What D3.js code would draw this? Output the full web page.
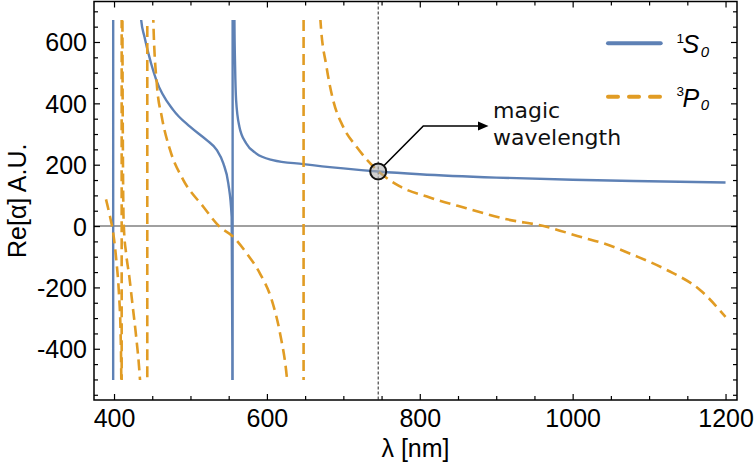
<!DOCTYPE html>
<html><head><meta charset="utf-8">
<script src="https://cdn.jsdelivr.net/npm/d3@7"></script>
<style>body{margin:0;background:#fff;overflow:hidden}</style>
</head><body><svg id="c" width="754" height="469"></svg>
<script>
// ---- data ----
const xTicks = [400, 600, 800, 1000, 1200];
const yTicks = [-400, -200, 0, 200, 400, 600];
const xMinor = [450, 500, 550, 650, 700, 750, 850, 900, 950, 1050, 1100, 1150];
const yMinor = [-550, -500, -450, -350, -300, -250, -150, -100, -50, 50, 100, 150, 250, 300, 350, 450, 500, 550, 650, 700];

// 1S0 polarizability  [wavelength nm, Re(alpha) a.u.]
const s0Data = [
  [390, -1500], [398.8, -8000], [399.0, 8000], [435.5, 672], [439.8, 617], [448.5, 530],
  [455.3, 476], [477.6, 378], [499.4, 324], [521.3, 280], [534.3, 248], [543, 204],
  [549.5, 139], [553.9, 30], [554.8, -400], [555.0, -8000], [555.3, 8000], [557.5, 672],
  [558.4, 519], [559.7, 411], [564, 324], [572.8, 270], [585.8, 237], [607.6, 215],
  [647.6, 202], [700, 188], [745.6, 178], [800, 169], [900, 158], [1000, 151],
  [1100, 146], [1200, 142]
];
// 3P0 polarizability
const p0Data = [
  [389.5, 87], [394.8, 30], [399, -24], [403, -111], [406.4, -219], [408.6, -349],
  [409.5, -502], [409.9, -8000], [410.1, 8000], [411.0, 672], [411.6, 250], [412.2, 60],
  [413, -10], [415.8, -89], [420, -165], [424.5, -263], [429, -361], [433.4, -481],
  [438, -700], [443.4, -8000], [443.6, 8000], [451.4, 672], [455.9, 465], [462.4, 357],
  [473.3, 248], [490.7, 150], [516.8, 63], [538, -2], [556, -35], [573.6, -89],
  [590.8, -154], [606.3, -241], [617.2, -350], [626, -491], [635, -800], [647.9, -8000],
  [648.1, 8000], [670, 672], [678, 519], [686.6, 411], [699.7, 324], [717, 259],
  [745.6, 179], [774, 129], [813, 93], [861, 58], [914, 22], [962, 0], [1014, -38],
  [1040, -56], [1080, -95], [1123, -143], [1167, -209], [1200, -296]
];
const magicLambda = 745.6;
const magicAlpha = 178;
const clipRange = [-502, 672];
const legendLabels = [
  {sup: "1", main: "S", sub: "0"},
  {sup: "3", main: "P", sub: "0"}
];
const annotationLines = ["magic", "wavelength"];

// ---- drawing ----
const blue = "#5E81B5", orange = "#E19C24";
const svg = d3.select("#c");
const L = 94, R = 737, T = 1.5, B = 400;
const x = d3.scaleLinear().domain([373.8, 1215]).range([L, R]);
const y = d3.scaleLinear().domain([-567, 732]).range([B, T]);
const tickFont = "'Liberation Sans', Arial, sans-serif";
const fmt = d => String(d);

svg.append("defs").append("clipPath").attr("id", "clip")
  .append("rect").attr("x", L).attr("width", R - L)
  .attr("y", y(clipRange[1])).attr("height", y(clipRange[0]) - y(clipRange[1]));

// zero line
svg.append("line").attr("x1", L).attr("x2", R).attr("y1", y(0)).attr("y2", y(0))
  .attr("stroke", "#808080").attr("stroke-width", 1.4);

// magic wavelength dashed line
svg.append("line").attr("x1", x(magicLambda)).attr("x2", x(magicLambda))
  .attr("y1", T).attr("y2", B).attr("stroke", "#222").attr("stroke-width", 1)
  .attr("stroke-dasharray", "3,2");

const line = d3.line().x(d => x(d[0])).y(d => y(d[1])).curve(d3.curveMonotoneX);
const g = svg.append("g").attr("clip-path", "url(#clip)");
g.append("path").datum(s0Data).attr("d", line).attr("fill", "none")
  .attr("stroke", blue).attr("stroke-width", 2.4);
g.append("path").datum(p0Data).attr("d", line).attr("fill", "none")
  .attr("stroke", orange).attr("stroke-width", 2.6).attr("stroke-dasharray", "11,6");

// frame
svg.append("rect").attr("x", L).attr("y", T).attr("width", R - L).attr("height", B - T)
  .attr("fill", "none").attr("stroke", "#000").attr("stroke-width", 1.5);

function styleAxis(sel) {
  sel.select(".domain").remove();
  sel.selectAll(".tick line").attr("stroke", "#000").attr("stroke-width", 1.2);
  sel.selectAll("text").attr("font-family", tickFont).attr("font-size", 25).attr("fill", "#000");
}
// bottom
svg.append("g").attr("transform", `translate(0,${B})`)
  .call(d3.axisBottom(x).tickValues(xTicks).tickSize(-6).tickPadding(9).tickFormat(fmt))
  .call(styleAxis);
svg.append("g").attr("transform", `translate(0,${B})`)
  .call(d3.axisBottom(x).tickValues(xMinor).tickSize(-4).tickFormat("")).call(styleAxis);
// top
svg.append("g").attr("transform", `translate(0,${T})`)
  .call(d3.axisTop(x).tickValues(xTicks).tickSize(-6).tickFormat("")).call(styleAxis);
svg.append("g").attr("transform", `translate(0,${T})`)
  .call(d3.axisTop(x).tickValues(xMinor).tickSize(-4).tickFormat("")).call(styleAxis);
// left
const la = svg.append("g").attr("transform", `translate(${L},0)`)
  .call(d3.axisLeft(y).tickValues(yTicks).tickSize(-6).tickPadding(7).tickFormat(fmt))
  .call(styleAxis);
la.selectAll("text").attr("dy", "0.36em");
svg.append("g").attr("transform", `translate(${L},0)`)
  .call(d3.axisLeft(y).tickValues(yMinor).tickSize(-4).tickFormat("")).call(styleAxis);
// right
svg.append("g").attr("transform", `translate(${R},0)`)
  .call(d3.axisRight(y).tickValues(yTicks).tickSize(-6).tickFormat("")).call(styleAxis);
svg.append("g").attr("transform", `translate(${R},0)`)
  .call(d3.axisRight(y).tickValues(yMinor).tickSize(-4).tickFormat("")).call(styleAxis);

// axis titles
svg.append("text").attr("x", (L + R) / 2).attr("y", 457).attr("text-anchor", "middle")
  .attr("font-family", tickFont).attr("font-size", 25).text("λ [nm]");
svg.append("text").attr("transform", `translate(26,${(T + B) / 2}) rotate(-90)`)
  .attr("text-anchor", "middle").attr("font-family", tickFont).attr("font-size", 25)
  .text("Re[α] A.U.");

// legend
const legY = [43.3, 96.7];
legendLabels.forEach((lab, i) => {
  const ly = legY[i];
  const ln = svg.append("line").attr("x1", 608).attr("x2", 660.7).attr("y1", ly).attr("y2", ly)
    .attr("stroke", i === 0 ? blue : orange).attr("stroke-width", 4).attr("stroke-linecap", "round");
  if (i === 1) ln.attr("stroke-dasharray", "10,11");
  const t = svg.append("text").attr("x", 676.5).attr("y", ly + 10)
    .attr("font-family", tickFont).attr("fill", "#000");
  t.append("tspan").attr("font-size", 13.5).attr("dy", -10.5).text(lab.sup);
  t.append("tspan").attr("font-size", 25).attr("font-style", "italic")
    .attr("dx", -1.5).attr("dy", 10.5).text(lab.main);
  t.append("tspan").attr("font-size", 15).attr("font-style", "italic")
    .attr("dx", 1.5).attr("dy", 3.4).text(lab.sub);
});

// magic wavelength annotation
const cx = x(magicLambda), cy = y(magicAlpha), r = 8;
const bend = [423.3, 126], tipX = 488.5;
svg.append("polyline")
  .attr("points", `${cx + r * 0.707},${cy - r * 0.707} ${bend[0]},${bend[1]} ${tipX - 10},${bend[1]}`)
  .attr("fill", "none").attr("stroke", "#000").attr("stroke-width", 1.6);
svg.append("polygon")
  .attr("points", `${tipX - 10.5},${bend[1] - 4.5} ${tipX},${bend[1]} ${tipX - 10.5},${bend[1] + 4.5}`)
  .attr("fill", "#000");
svg.append("circle").attr("cx", cx).attr("cy", cy).attr("r", r)
  .attr("fill", "rgba(170,170,170,0.55)").attr("stroke", "#111").attr("stroke-width", 2);
annotationLines.forEach((t, i) => {
  svg.append("text").attr("x", 493).attr("y", 118 + i * 26.5)
    .attr("font-family", "'DejaVu Sans', sans-serif").attr("font-size", 22).attr("fill", "#111")
    .text(t);
});
</script>
</body></html>
